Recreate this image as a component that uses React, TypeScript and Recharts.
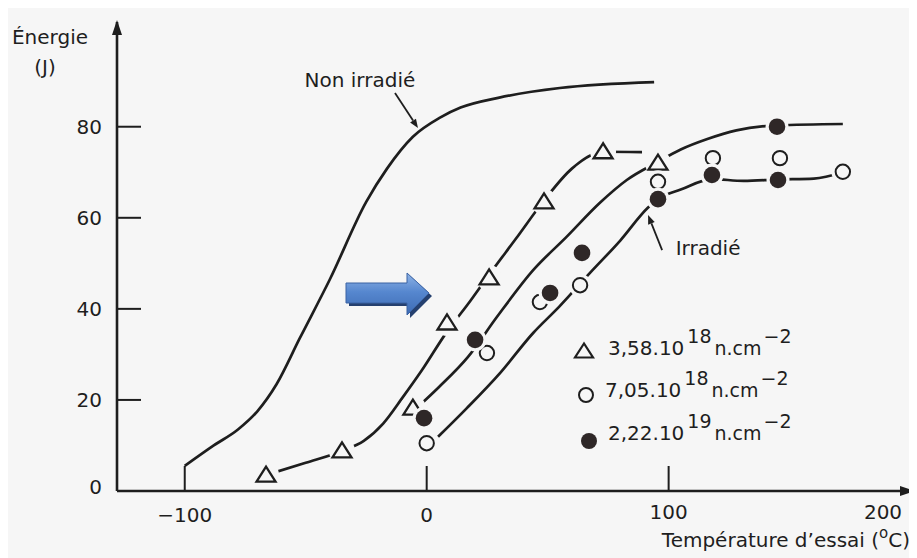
import React from "react";
import {
  ComposedChart,
  Line,
  Scatter,
  XAxis,
  YAxis,
  ReferenceLine,
  ReferenceDot,
} from "recharts";

// courbes tracées à la main (lectures sur la figure) : t en °C, e en J
const nonIrradie = [
  { t: -100, e: 5.5 }, { t: -88, e: 10 }, { t: -78, e: 13.5 }, { t: -70, e: 17.5 },
  { t: -62, e: 23.5 }, { t: -52.5, e: 33.5 }, { t: -40, e: 46.5 }, { t: -25, e: 63.5 },
  { t: -16.4, e: 70.8 }, { t: -5.7, e: 77.8 }, { t: 5.5, e: 82 }, { t: 14, e: 84.2 },
  { t: 30, e: 86.4 }, { t: 55, e: 88.5 }, { t: 94, e: 89.8 },
];
const courbeHaute = [
  { t: -66.4, e: 3.5 }, { t: -50, e: 6.2 }, { t: -35, e: 8.8 }, { t: -26, e: 11 },
  { t: -18, e: 14.8 }, { t: -10, e: 20.5 }, { t: -2, e: 26.5 }, { t: 8.4, e: 35 },
  { t: 17, e: 41 }, { t: 25.8, e: 47.5 }, { t: 37, e: 55.5 }, { t: 48.5, e: 63.8 },
  { t: 60, e: 70.8 }, { t: 73, e: 74.5 }, { t: 89, e: 74.4 },
];
const courbeMilieu = [
  { t: -4, e: 18.3 }, { t: 5, e: 22.8 }, { t: 17, e: 29.4 }, { t: 29, e: 38.2 },
  { t: 44, e: 48.5 }, { t: 57.8, e: 55.8 }, { t: 71.6, e: 63.3 }, { t: 82.7, e: 68.3 },
  { t: 95.6, e: 72.3 }, { t: 105, e: 75 }, { t: 116, e: 77.3 }, { t: 128, e: 79.2 },
  { t: 145, e: 80.3 }, { t: 172, e: 80.6 },
];
const courbeBasse = [
  { t: 4.7, e: 11.9 }, { t: 16.6, e: 18.2 }, { t: 30.3, e: 25.9 }, { t: 44, e: 34.7 },
  { t: 55, e: 40.6 }, { t: 67.5, e: 47.9 }, { t: 80, e: 55 }, { t: 91.4, e: 62.2 },
  { t: 95.6, e: 64.1 }, { t: 105, e: 66.2 }, { t: 118, e: 68.5 }, { t: 131, e: 68.1 },
  { t: 145, e: 68.4 }, { t: 160, e: 68.6 }, { t: 172, e: 70 },
];

// points de mesure
const pts358 = [
  { t: -66.4, e: 3.5 }, { t: -35, e: 8.8 }, { t: -5.7, e: 18.2 }, { t: 8.4, e: 36.9 },
  { t: 25.8, e: 46.8 }, { t: 48.5, e: 63.5 }, { t: 72.9, e: 74.5 }, { t: 95.6, e: 72 },
];
const pts705 = [
  { t: 0, e: 10.5 }, { t: 24.9, e: 30.3 }, { t: 46.8, e: 41.5 }, { t: 63.4, e: 45.2 },
  { t: 95.6, e: 67.9 }, { t: 118.3, e: 73.1 }, { t: 146, e: 73.1 }, { t: 172, e: 70.1 },
];
const pts222 = [
  { t: -1.1, e: 16 }, { t: 20, e: 33.2 }, { t: 51, e: 43.5 }, { t: 64.2, e: 52.3 },
  { t: 95.6, e: 64.1 }, { t: 117.9, e: 69.4 }, { t: 144.8, e: 80 }, { t: 145.2, e: 68.3 },
];

const xTicks = [-100, 0, 100, 200];
const yTicks = [0, 20, 40, 60, 80];

const legende = [
  { sym: "tri", base: "3,58.10", exp: "18" },
  { sym: "open", base: "7,05.10", exp: "18" },
  { sym: "full", base: "2,22.10", exp: "19" },
];

const BG = "#f6f6f6";
const INK = "#1e1e1e";
const DOT = "#2e2727";
const FONT = "'DejaVu Sans', sans-serif";

const Tri = ({ cx, cy }: any) => (
  <g>
    <circle cx={cx} cy={cy} r={13} fill={BG} />
    <polygon
      points={`${cx},${cy - 8.5} ${cx - 9.5},${cy + 6.5} ${cx + 9.5},${cy + 6.5}`}
      fill={BG}
      stroke={INK}
      strokeWidth={2.3}
    />
  </g>
);
const OpenDot = ({ cx, cy }: any) => (
  <g>
    <circle cx={cx} cy={cy} r={11.5} fill={BG} />
    <circle cx={cx} cy={cy} r={7.2} fill={BG} stroke={INK} strokeWidth={2} />
  </g>
);
const FullDot = ({ cx, cy }: any) => (
  <g>
    <circle cx={cx} cy={cy} r={11.5} fill={BG} />
    <circle cx={cx} cy={cy} r={8.3} fill={DOT} />
  </g>
);

const XTick = ({ x, y, payload }: any) => {
  const v = payload.value;
  const lab = v < 0 ? "\u2212" + Math.abs(v) : String(v);
  return (
    <g>
      {v !== 200 && <line x1={x} y1={y} x2={x} y2={y - 25} stroke={INK} strokeWidth={2} />}
      <text
        x={v === 200 ? x - 22 : x}
        y={v >= 100 ? y + 28 : y + 31}
        textAnchor="middle"
        fontSize={20}
        fill={INK}
        fontFamily={FONT}
      >
        {lab}
      </text>
    </g>
  );
};
const YTick = ({ x, y, payload }: any) => {
  const v = payload.value;
  return (
    <g>
      {v !== 0 && <line x1={x} y1={y} x2={x + 24} y2={y} stroke={INK} strokeWidth={2} />}
      <text x={x - 15} y={v === 0 ? y + 3 : y + 7} textAnchor="end" fontSize={20} fill={INK} fontFamily={FONT}>
        {v}
      </text>
    </g>
  );
};

const Fleche = ({ x1, y1, x2, y2 }: any) => {
  const a = Math.atan2(y2 - y1, x2 - x1);
  const L = 9, W = 3.5;
  const bx = x2 - L * Math.cos(a), by = y2 - L * Math.sin(a);
  const px = -Math.sin(a) * W, py = Math.cos(a) * W;
  return (
    <g>
      <line x1={x1} y1={y1} x2={bx} y2={by} stroke={INK} strokeWidth={1.8} />
      <polygon points={`${x2},${y2} ${bx + px},${by + py} ${bx - px},${by - py}`} fill={INK} />
    </g>
  );
};

const Texte = (txt: string) => ({ cx, cy }: any) => (
  <text x={cx} y={cy + 7} textAnchor="middle" fontSize={20} fill={INK} fontFamily={FONT}>
    {txt}
  </text>
);

const TitreX = ({ viewBox }: any) => (
  <text x={viewBox.x + viewBox.width - 3} y={viewBox.y + 56} textAnchor="end" fontSize={20} fill={INK} fontFamily={FONT}>
    Température d’essai (<tspan fontSize={15} dy={-9}>o</tspan>
    <tspan dy={9}>C)</tspan>
  </text>
);
const TitreY = () => (
  <g fontSize={20} fill={INK} fontFamily={FONT}>
    <text x={42} y={36} textAnchor="middle">Énergie</text>
    <text x={37} y={66} textAnchor="middle">(J)</text>
  </g>
);

const Symbole = ({ sym }: { sym: string }) => (
  <svg width={22} height={22} style={{ position: "absolute", left: 0, top: 0 }}>
    {sym === "tri" && (
      <polygon points="11,3.5 2,17.5 20,17.5" fill="none" stroke={INK} strokeWidth={2.2} />
    )}
    {sym === "open" && <circle cx={11} cy={11} r={7} fill="none" stroke={INK} strokeWidth={2} />}
    {sym === "full" && <circle cx={11} cy={11} r={8} fill={DOT} />}
  </svg>
);

const symPos = [
  { left: 565, top: 332 },
  { left: 567, top: 376 },
  { left: 570, top: 422 },
];
const txtPos = [
  { left: 600, top: 328 },
  { left: 597, top: 370 },
  { left: 600, top: 413 },
];

export default function App() {
  return (
    <div style={{ position: "relative", width: 909, height: 550, background: BG, fontFamily: FONT }}>
      <ComposedChart width={909} height={550} margin={{ top: 14, right: 4, left: 0, bottom: 0 }}>
        <XAxis
          dataKey="t"
          type="number"
          domain={[-128, 201]}
          allowDataOverflow
          ticks={xTicks}
          tick={<XTick />}
          tickLine={false}
          tickSize={0}
          tickMargin={0}
          height={67}
          axisLine={{ stroke: INK, strokeWidth: 2.6 }}
          label={<TitreX />}
        />
        <YAxis
          dataKey="e"
          type="number"
          domain={[0, 103]}
          allowDataOverflow
          ticks={yTicks}
          tick={<YTick />}
          tickLine={false}
          tickSize={0}
          tickMargin={0}
          width={109}
          axisLine={{ stroke: INK, strokeWidth: 2.6 }}
          label={<TitreY />}
        />
        <Line data={nonIrradie} dataKey="e" type="monotone" stroke={INK} strokeWidth={2.7} dot={false} activeDot={false} isAnimationActive={false} />
        <Line data={courbeHaute} dataKey="e" type="monotone" stroke={INK} strokeWidth={2.7} dot={false} activeDot={false} isAnimationActive={false} />
        <Line data={courbeMilieu} dataKey="e" type="monotone" stroke={INK} strokeWidth={2.7} dot={false} activeDot={false} isAnimationActive={false} />
        <Line data={courbeBasse} dataKey="e" type="monotone" stroke={INK} strokeWidth={2.7} dot={false} activeDot={false} isAnimationActive={false} />
        <Scatter data={pts358} shape={(p: any) => <Tri {...p} />} isAnimationActive={false} />
        <Scatter data={pts705} shape={(p: any) => <OpenDot {...p} />} isAnimationActive={false} />
        <Scatter data={pts222} shape={(p: any) => <FullDot {...p} />} isAnimationActive={false} />
        <ReferenceLine segment={[{ x: -13.1, y: 87.4 }, { x: -3.6, y: 79.7 }]} shape={(p: any) => <Fleche {...p} />} ifOverflow="visible" />
        <ReferenceLine segment={[{ x: 97.3, y: 52.9 }, { x: 91.5, y: 60.6 }]} shape={(p: any) => <Fleche {...p} />} ifOverflow="visible" />
        <ReferenceDot x={-27.6} y={90.3} r={0} ifOverflow="visible" shape={Texte("Non irradié")} />
        <ReferenceDot x={116.3} y={53.4} r={0} ifOverflow="visible" shape={Texte("Irradié")} />
        <ReferenceDot
          x={201}
          y={0}
          r={0}
          ifOverflow="visible"
          shape={({ cx, cy }: any) => <polygon points={`${cx + 2},${cy} ${cx - 13},${cy - 5} ${cx - 13},${cy + 5}`} fill={INK} />}
        />
        <ReferenceDot
          x={-128}
          y={103}
          r={0}
          ifOverflow="visible"
          shape={({ cx, cy }: any) => <polygon points={`${cx},${cy - 2} ${cx - 5},${cy + 13} ${cx + 5},${cy + 13}`} fill={INK} />}
        />
      </ComposedChart>

      {/* flèche bleue ajoutée sur la figure */}
      <svg width={909} height={550} style={{ position: "absolute", left: 0, top: 0, pointerEvents: "none" }}>
        <defs>
          <linearGradient id="bleu" x1="0" y1="0" x2="0" y2="1">
            <stop offset="0" stopColor="#8fb4e6" />
            <stop offset="0.45" stopColor="#5687cf" />
            <stop offset="1" stopColor="#3d6bb3" />
          </linearGradient>
        </defs>
        <polygon points="341,278 402,278 402,268 424,288 402,310 402,298 341,298" fill="#25406f" />
        <polygon points="338,275 399,275 399,265 421,285 399,307 399,295 338,295" fill="url(#bleu)" stroke="#3a62a3" strokeWidth={1} />
      </svg>

      {legende.map((l, i) => (
        <React.Fragment key={l.base}>
          <div style={{ position: "absolute", ...symPos[i], width: 22, height: 22 }}>
            <Symbole sym={l.sym} />
          </div>
          <div
            style={{
              position: "absolute",
              ...txtPos[i],
              fontSize: 20,
              lineHeight: "24px",
              color: INK,
              whiteSpace: "nowrap",
            }}
          >
            {l.base}
            <span style={{ position: "relative", top: -12, fontSize: 19, marginLeft: 3 }}>{l.exp}</span>
            <span style={{ fontSize: 19, marginLeft: 3 }}>n.cm</span>
            <span style={{ position: "relative", top: -12, fontSize: 19, marginLeft: 2 }}>{"\u2212"}2</span>
          </div>
        </React.Fragment>
      ))}
    </div>
  );
}
